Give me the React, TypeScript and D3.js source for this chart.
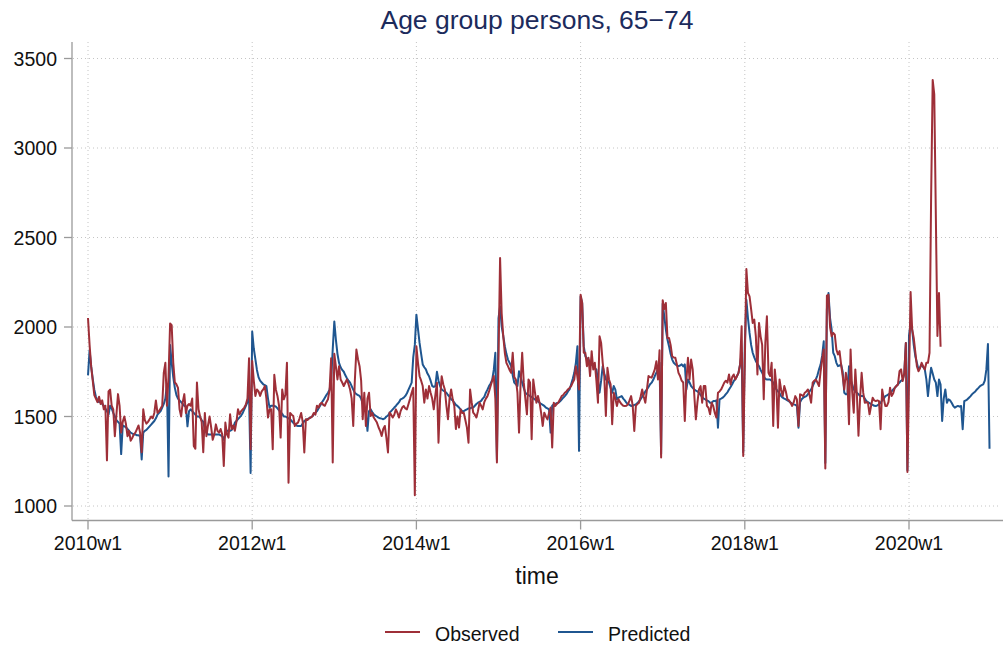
import React from "react";
import * as d3 from "d3";

// ---- Data (weekly, Stata weeks: 52 per year) ----
const pred2010 = [1730,1870,1780,1710,1650,1610,1590,1580,1585,1570,1560,1545,1530,1510,1560,1545,1520,1500,1480,1470,1460,1290,1450,1445,1440,1430,1420,1410,1405,1400,1400,1395,1395,1390,1260,1410,1420,1425,1435,1445,1455,1465,1475,1490,1510,1520,1530,1550,1570,1600,1680,1165];
const pred2011 = [1900,1800,1720,1660,1620,1600,1590,1580,1570,1560,1555,1445,1530,1540,1530,1520,1510,1500,1500,1495,1480,1470,1430,1410,1400,1400,1400,1400,1400,1400,1400,1400,1395,1390,1370,1400,1420,1420,1420,1425,1440,1465,1475,1485,1495,1505,1520,1540,1560,1580,1620,1185];
const pred2012 = [1975,1880,1820,1760,1720,1700,1690,1680,1675,1670,1600,1550,1560,1560,1560,1555,1545,1535,1525,1515,1500,1500,1495,1490,1485,1475,1465,1456,1450,1447,1447,1447,1460,1475,1480,1485,1490,1495,1500,1512,1520,1530,1545,1560,1577,1590,1605,1620,1633,1650,1700,1874];
const pred2013 = [2031,1930,1850,1800,1775,1760,1750,1730,1714,1700,1689,1670,1650,1633,1625,1620,1615,1600,1570,1540,1530,1420,1530,1540,1525,1512,1505,1500,1494,1490,1488,1485,1490,1500,1505,1520,1530,1540,1550,1559,1570,1580,1596,1600,1605,1615,1630,1650,1670,1689,1830,1900];
const pred2014 = [2069,1990,1911,1850,1791,1775,1763,1740,1725,1700,1670,1665,1670,1750,1700,1670,1651,1645,1640,1633,1620,1610,1596,1590,1577,1565,1559,1550,1540,1530,1530,1535,1540,1545,1545,1550,1550,1560,1570,1577,1582,1587,1600,1610,1633,1650,1670,1685,1704,1760,1856,1260];
const pred2015 = [2050,2115,2004,1950,1893,1850,1818,1800,1781,1730,1689,1680,1670,1753,1720,1689,1660,1633,1625,1620,1614,1608,1602,1596,1590,1585,1577,1570,1565,1559,1550,1545,1540,1410,1560,1568,1570,1575,1577,1585,1595,1605,1614,1625,1640,1651,1680,1710,1744,1800,1893,1308];
const pred2016 = [2170,2134,1893,1837,1825,1818,1800,1791,1780,1770,1763,1700,1633,1700,1781,1740,1707,1700,1689,1660,1633,1670,1650,1596,1605,1610,1614,1600,1590,1577,1570,1565,1559,1560,1565,1568,1575,1585,1596,1610,1625,1640,1651,1665,1680,1689,1705,1726,1745,1763,1800,1290];
const pred2017 = [2130,2060,1986,1930,1893,1850,1818,1800,1791,1785,1781,1785,1791,1780,1791,1651,1707,1690,1670,1660,1651,1645,1640,1633,1620,1610,1600,1596,1590,1586,1577,1577,1586,1586,1590,1437,1596,1600,1605,1614,1625,1635,1651,1665,1680,1698,1710,1725,1744,1790,1856,1300];
const pred2018 = [1900,2152,2050,1967,1900,1856,1830,1809,1795,1781,1760,1744,1725,1710,1707,1707,1707,1700,1689,1670,1651,1640,1630,1614,1605,1600,1596,1590,1585,1577,1572,1568,1565,1560,1437,1580,1596,1605,1610,1614,1625,1640,1651,1670,1690,1707,1730,1763,1790,1840,1920,1240];
const pred2019 = [2100,2190,2050,1986,1856,1837,1800,1781,1785,1790,1750,1633,1624,1624,1781,1707,1680,1651,1640,1633,1625,1614,1614,1614,1600,1586,1580,1575,1568,1565,1560,1559,1562,1568,1577,1590,1600,1614,1618,1624,1630,1640,1651,1660,1670,1679,1690,1700,1707,1740,1911,1200];
const pred2020 = [1950,2023,1986,1900,1837,1800,1763,1775,1790,1775,1763,1707,1614,1700,1772,1740,1707,1689,1614,1707,1679,1475,1600,1651,1577,1596,1590,1577,1560,1549,1555,1559,1555,1559,1429,1586,1590,1596,1605,1614,1625,1633,1640,1651,1660,1670,1675,1679,1700,1763,1905,1320];

const obs2010 = [2050,1900,1780,1700,1620,1600,1580,1610,1570,1590,1540,1560,1255,1640,1650,1560,1540,1390,1510,1625,1560,1410,1470,1500,1460,1390,1420,1365,1380,1400,1410,1430,1450,1410,1300,1540,1480,1460,1470,1485,1500,1490,1520,1590,1520,1530,1545,1560,1745,1800,1560,1720];
const obs2011 = [2020,2010,1800,1690,1680,1660,1540,1500,1580,1625,1520,1560,1570,1560,1600,1335,1320,1690,1540,1500,1470,1300,1520,1390,1450,1500,1440,1370,1400,1456,1420,1410,1430,1400,1224,1466,1400,1382,1512,1430,1450,1420,1470,1540,1512,1530,1540,1550,1568,1600,1825,1317];
const obs2012 = [1810,1700,1615,1651,1640,1615,1640,1651,1670,1600,1494,1540,1540,1317,1733,1650,1615,1560,1382,1651,1596,1620,1800,1130,1520,1510,1503,1447,1460,1466,1490,1520,1470,1299,1485,1480,1490,1494,1500,1520,1510,1560,1550,1570,1577,1565,1560,1580,1596,1650,1825,1243];
const obs2013 = [1850,1780,1707,1781,1707,1690,1670,1690,1707,1680,1651,1600,1447,1700,1874,1820,1781,1700,1485,1633,1447,1600,1633,1503,1520,1494,1480,1466,1440,1420,1391,1430,1447,1380,1299,1522,1510,1494,1510,1540,1520,1494,1530,1550,1559,1545,1540,1570,1600,1633,1660,1060];
const obs2014 = [1892,1800,1725,1700,1670,1577,1651,1600,1670,1633,1600,1540,1620,1689,1354,1600,1725,1680,1651,1560,1485,1600,1651,1596,1560,1430,1500,1438,1540,1520,1521,1480,1438,1354,1651,1580,1521,1510,1494,1530,1577,1560,1540,1580,1600,1614,1640,1670,1700,1726,1600,1243];
const obs2015 = [1820,2385,2078,1950,1856,1800,1781,1760,1744,1856,1720,1707,1633,1410,1689,1856,1689,1600,1512,1707,1689,1373,1707,1640,1577,1614,1577,1520,1447,1521,1500,1484,1520,1550,1327,1577,1559,1570,1580,1596,1614,1620,1633,1640,1651,1660,1670,1690,1707,1781,1720,1651];
const obs2016 = [2180,2134,1856,1856,1781,1828,1726,1865,1763,1800,1700,1577,1948,1911,1800,1726,1503,1772,1707,1680,1457,1633,1600,1559,1596,1580,1568,1560,1559,1560,1568,1590,1614,1560,1419,1559,1570,1577,1610,1651,1610,1577,1650,1726,1720,1717,1740,1763,1809,1707,1870,1271];
const obs2017 = [2150,2100,2134,1939,1939,1900,1837,1830,1828,1790,1744,1726,1700,1690,1475,1700,1828,1707,1818,1763,1620,1484,1580,1651,1670,1577,1670,1670,1559,1549,1512,1577,1559,1520,1494,1633,1640,1651,1670,1689,1700,1689,1735,1679,1720,1735,1707,1725,1744,1791,2004,1280];
const obs2018 = [1800,2324,2190,2171,2100,2023,2041,1948,1735,2023,1948,1900,1596,1911,2060,1744,1726,1800,1447,1763,1670,1437,1707,1650,1614,1670,1640,1596,1590,1577,1559,1580,1614,1596,1447,1624,1620,1614,1633,1640,1651,1620,1577,1689,1700,1707,1690,1670,1750,1818,1874,1210];
const obs2019 = [2175,2180,2000,1948,1967,1957,1874,1846,1865,1790,1726,1651,1744,1700,1457,1874,1640,1521,1763,1620,1392,1600,1744,1633,1577,1580,1577,1512,1560,1605,1590,1586,1590,1586,1429,1651,1600,1559,1559,1580,1661,1614,1630,1661,1670,1679,1753,1763,1698,1740,1911,1190];
const obs2020 = [1700,2196,1986,1939,1860,1781,1753,1770,1800,1780,1763,1800,1800,1856,2720,3380,3300,2620,1950,2190,1890];

const predicted = [...pred2010, ...pred2011, ...pred2012, ...pred2013, ...pred2014, ...pred2015, ...pred2016, ...pred2017, ...pred2018, ...pred2019, ...pred2020];
const observed = [...obs2010, ...obs2011, ...obs2012, ...obs2013, ...obs2014, ...obs2015, ...obs2016, ...obs2017, ...obs2018, ...obs2019, ...obs2020];

const yTicks = [1000, 1500, 2000, 2500, 3000, 3500];
const xTickYears = [2010, 2012, 2014, 2016, 2018, 2020];
const xTickLabels = xTickYears.map((yr) => `${yr}w1`);
const legendItems = ["Observed", "Predicted"];

const W = 1003;
const H = 649;
const FONT = "'Liberation Sans', Arial, Helvetica, sans-serif";
const RED = "#9e2f38";
const BLUE = "#1f5690";

export default function App() {
  const weekOf = (yr: number) => (yr - 2010) * 52;
  const x = d3.scaleLinear().domain([0, 520]).range([88, 909]);
  const y = d3.scaleLinear().domain([1000, 3500]).range([506, 58.5]);
  const plotTop = 42;
  const plotBottom = 520.5;
  const plotLeft = 72;
  const plotRight = 1003;

  const line = d3
    .line<number>()
    .x((_, i) => x(i))
    .y((d) => y(d));

  return (
    <svg
      width={W}
      height={H}
      style={{ position: "absolute", left: 0, top: 0, background: "#fff" }}
      fontFamily={FONT}
    >
      <rect x={0} y={0} width={W} height={H} fill="#fff" />
      {/* gridlines */}
      {yTicks.map((v) => (
        <line
          key={"gy" + v}
          x1={plotLeft + 1}
          x2={plotRight - 2}
          y1={y(v)}
          y2={y(v)}
          stroke="#c4c4c4"
          strokeWidth={1}
          strokeDasharray="1,3"
        />
      ))}
      {xTickYears.map((yr) => (
        <line
          key={"gx" + yr}
          x1={x(weekOf(yr))}
          x2={x(weekOf(yr))}
          y1={plotTop}
          y2={plotBottom - 1}
          stroke="#c4c4c4"
          strokeWidth={1}
          strokeDasharray="1,3"
        />
      ))}
      {/* series */}
      <path d={line(predicted) || ""} fill="none" stroke={BLUE} strokeWidth={2} strokeLinejoin="round" />
      <path d={line(observed) || ""} fill="none" stroke={RED} strokeWidth={2} strokeLinejoin="round" />
      {/* axes */}
      <line x1={plotLeft} x2={plotLeft} y1={plotTop} y2={plotBottom} stroke="#9a9a9a" strokeWidth={1.3} />
      <line x1={plotLeft} x2={plotRight} y1={plotBottom} y2={plotBottom} stroke="#9a9a9a" strokeWidth={1.3} />
      {yTicks.map((v) => (
        <g key={"ty" + v}>
          <line x1={plotLeft - 8} x2={plotLeft} y1={y(v)} y2={y(v)} stroke="#9a9a9a" strokeWidth={1.3} />
          <text x={57} y={y(v)} dy="0.36em" textAnchor="end" fontSize={19.5} fill="#111">
            {v}
          </text>
        </g>
      ))}
      {xTickYears.map((yr, i) => (
        <g key={"tx" + yr}>
          <line x1={x(weekOf(yr))} x2={x(weekOf(yr))} y1={plotBottom} y2={plotBottom + 9} stroke="#9a9a9a" strokeWidth={1.3} />
          <text x={x(weekOf(yr))} y={550} textAnchor="middle" fontSize={19.5} fill="#111">
            {xTickLabels[i]}
          </text>
        </g>
      ))}
      {/* titles */}
      <text x={537} y={29} textAnchor="middle" fontSize={26.5} fill="#1c2b5c">
        Age group persons, 65−74
      </text>
      <text x={537} y={584} textAnchor="middle" fontSize={23} fill="#111">
        time
      </text>
      {/* legend */}
      <line x1={385} x2={420} y1={632} y2={632} stroke={RED} strokeWidth={2} />
      <text x={435} y={641} fontSize={19.5} fill="#111">
        {legendItems[0]}
      </text>
      <line x1={558} x2={593} y1={632} y2={632} stroke={BLUE} strokeWidth={2} />
      <text x={608} y={641} fontSize={19.5} fill="#111">
        {legendItems[1]}
      </text>
    </svg>
  );
}
